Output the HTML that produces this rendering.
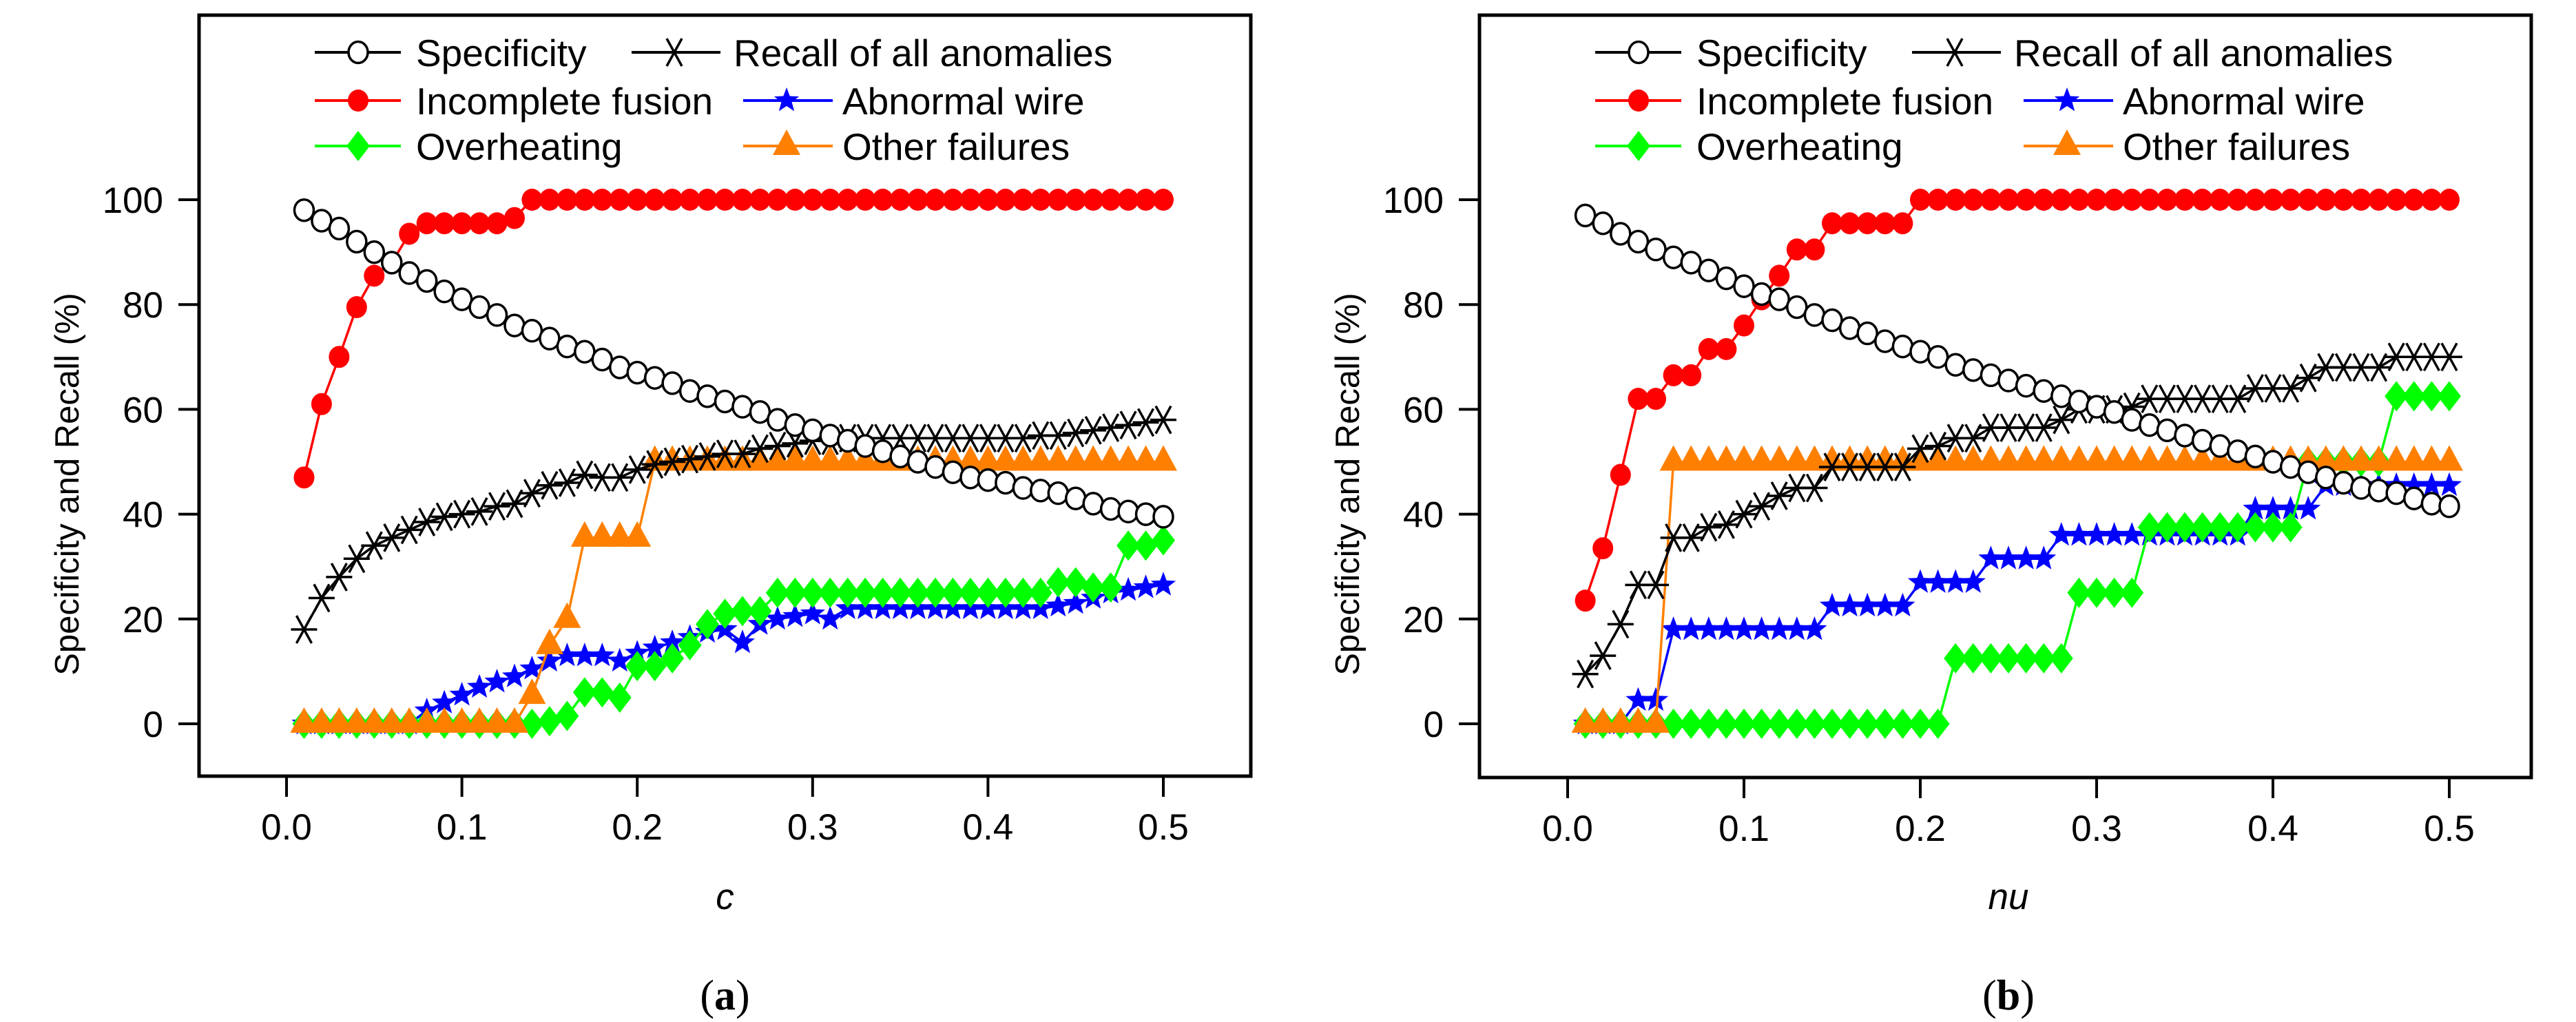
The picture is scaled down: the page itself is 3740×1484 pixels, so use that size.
<!DOCTYPE html>
<html><head><meta charset="utf-8"><style>
html,body{margin:0;padding:0;background:#fff;}
svg{display:block;font-family:"Liberation Sans",Arial,sans-serif;}
</style></head>
<body>
<svg id="fig" width="3740" height="1484" viewBox="0 0 3740 1484" xmlns="http://www.w3.org/2000/svg"></svg>
<script>
const xCats = [0.01,0.02,0.03,0.04,0.05,0.06,0.07,0.08,0.09,0.10,0.11,0.12,0.13,0.14,0.15,0.16,0.17,0.18,0.19,0.20,0.21,0.22,0.23,0.24,0.25,0.26,0.27,0.28,0.29,0.30,0.31,0.32,0.33,0.34,0.35,0.36,0.37,0.38,0.39,0.40,0.41,0.42,0.43,0.44,0.45,0.46,0.47,0.48,0.49,0.50];
const xTicks = ["0.0","0.1","0.2","0.3","0.4","0.5"];
const yTicks = [0,20,40,60,80,100];

const specA = [98,96,94.5,92,90,88,86,84.5,82.5,81,79.5,78,76,75,73.5,72,71,69.5,68,67,66,65,63.5,62.5,61.5,60.5,59.5,58,57,56,55,54,53,52,51,50,49,48,47,46.5,46,45,44.5,44,43,42,41,40.5,40,39.5];
const recallA = [18,24,28,31.5,34,35.5,37,38.5,39.5,40,40.5,41.5,42,44,45.5,46,47.5,47,47,48.5,49.5,50,50.5,51,51.5,51.5,52.5,53,53.5,54,54,54.5,54.5,54.5,54.5,54.5,54.5,54.5,54.5,54.5,54.5,54.5,55,55,55.5,56,56.5,57,57.5,58];
const fusionA = [47,61,70,79.5,85.5,88,93.5,95.5,95.5,95.5,95.5,95.5,96.5,100,100,100,100,100,100,100,100,100,100,100,100,100,100,100,100,100,100,100,100,100,100,100,100,100,100,100,100,100,100,100,100,100,100,100,100,100];
const wireA = [0,0,0,0,0,0,0,2.5,4,5.5,7,8,9,10.5,12,13,13,13,12,13.5,14.5,15.5,16.5,17.5,18,15.5,19,20,20.5,21,20,22,22,22,22,22,22,22,22,22,22,22,22,22.5,23,24,25,25.5,26,26.5];
const heatA = [0,0,0,0,0,0,0,0,0,0,0,0,0,0,0.5,1.5,6,6,5,11,11,12.5,15,19,21,21.5,21.5,25,25,25,25,25,25,25,25,25,25,25,25,25,25,25,25,27,27,26,26,34,34,35];
const otherA = [0,0,0,0,0,0,0,0,0,0,0,0,0,5.5,15,20,35.5,35.5,35.5,35.5,50,50,50,50,50,50,50,50,50,50,50,50,50,50,50,50,50,50,50,50,50,50,50,50,50,50,50,50,50,50];

const specB = [97,95.5,93.5,92,90.5,89,88,86.5,85,83.5,82,81,79.5,78,77,75.5,74.5,73,72,71,70,68.5,67.5,66.5,65.5,64.5,63.5,62.5,61.5,60.5,59.5,58,57,56,55,54,53,52,51,50,49,48,47,46,45,44.5,44,43,42,41.5];
const recallB = [9.5,13,19,26.5,26.5,35.5,35.5,37.5,38,40,41.5,43.5,45,45,49,49,49,49,49,52.5,53,54.5,54.5,56.5,56.5,56.5,56.5,58,60,60,60,60.5,62,62,62,62,62,62,64,64,64,66,68,68,68,68,70,70,70,70];
const fusionB = [23.5,33.5,47.5,62,62,66.5,66.5,71.5,71.5,76,81,85.5,90.5,90.5,95.5,95.5,95.5,95.5,95.5,100,100,100,100,100,100,100,100,100,100,100,100,100,100,100,100,100,100,100,100,100,100,100,100,100,100,100,100,100,100,100];
const wireB = [0,0,0,4.5,4.5,18,18,18,18,18,18,18,18,18,22.5,22.5,22.5,22.5,22.5,27,27,27,27,31.5,31.5,31.5,31.5,36,36,36,36,36,36,36,36,36,36,36,41,41,41,41,45.5,45.5,45.5,45.5,45.5,45.5,45.5,45.5];
const heatB = [0,0,0,0,0,0,0,0,0,0,0,0,0,0,0,0,0,0,0,0,0,12.5,12.5,12.5,12.5,12.5,12.5,12.5,25,25,25,25,37.5,37.5,37.5,37.5,37.5,37.5,37.5,37.5,37.5,50,50,50,50,50,62.5,62.5,62.5,62.5];
const otherB = [0,0,0,0,0,50,50,50,50,50,50,50,50,50,50,50,50,50,50,50,50,50,50,50,50,50,50,50,50,50,50,50,50,50,50,50,50,50,50,50,50,50,50,50,50,50,50,50,50,50];

const legendLabels = ["Specificity","Recall of all anomalies","Incomplete fusion","Abnormal wire","Overheating","Other failures"];

const NS="http://www.w3.org/2000/svg";
const svg=document.getElementById('fig');
function mk(tag,attrs,parent){const e=document.createElementNS(NS,tag);for(const k in attrs)e.setAttribute(k,attrs[k]);(parent||svg).appendChild(e);return e;}

function marker(type,cx,cy,g){
  let e;
  if(type==='circle'){e=mk('ellipse',{cx:cx,cy:cy,rx:14,ry:15.5,fill:'#fff',stroke:'#000','stroke-width':3.5},g);}
  else if(type==='dot'){e=mk('ellipse',{cx:cx,cy:cy,rx:15,ry:16,fill:'#ff0000'},g);}
  else if(type==='star'){let p=[];for(let i=0;i<10;i++){const r=i%2?8:19;const a=-Math.PI/2+i*Math.PI/5;p.push((cx+r*Math.cos(a)).toFixed(1)+','+(cy+r*Math.sin(a)).toFixed(1));}e=mk('polygon',{points:p.join(' '),fill:'#0000ff'},g);}
  else if(type==='diamond'){e=mk('polygon',{points:`${cx},${cy-22} ${cx+17},${cy} ${cx},${cy+22} ${cx-17},${cy}`,fill:'#00ff00'},g);}
  else if(type==='tri'){e=mk('polygon',{points:`${cx},${cy-24} ${cx+20},${cy+13} ${cx-20},${cy+13}`,fill:'#ff8000'},g);}
  else if(type==='ast'){e=mk('path',{d:`M${cx-19},${cy}H${cx+19}M${cx-11},${cy-20}L${cx+11},${cy+20}M${cx+11},${cy-20}L${cx-11},${cy+20}`,stroke:'#000','stroke-width':3.5,fill:'none'},g);}
  return e;
}

const seriesStyle=[
  {key:'wire',color:'#0000ff',m:'star',name:'abnormal-wire'},
  {key:'heat',color:'#00ff00',m:'diamond',name:'overheating'},
  {key:'other',color:'#ff8000',m:'tri',name:'other-failures'},
  {key:'fusion',color:'#ff0000',m:'dot',name:'incomplete-fusion'},
  {key:'recall',color:'#000000',m:'ast',name:'recall-all-anomalies'},
  {key:'spec',color:'#000000',m:'circle',name:'specificity'}
];

function panel(id,box,x0px,x5px,data,xlabel,sub){
  const g=mk('g',{});
  
  
  const y0=1051,y100=290;
  const X=v=>x0px+(x5px-x0px)*v/0.5;
  const Y=v=>y0+(y100-y0)*v/100;
  const frame=mk('rect',{x:box.l,y:box.t,width:box.r-box.l,height:box.b-box.t,fill:'none',stroke:'#000','stroke-width':5},g);
  
  
  yTicks.forEach(t=>{
    const tk=mk('line',{x1:box.l-30,x2:box.l,y1:Y(t),y2:Y(t),stroke:'#000','stroke-width':4},g);
    
    
    const tl=mk('text',{x:box.l-52,y:Y(t)+19,'text-anchor':'end','font-size':53},g);
    tl.textContent=t;
    
    
  });
  xTicks.forEach((t,i)=>{
    const xv=X(i*0.1);
    const tk=mk('line',{x1:xv,x2:xv,y1:box.b,y2:box.b+30,stroke:'#000','stroke-width':4},g);
    
    
    const tl=mk('text',{x:xv,y:box.b+92,'text-anchor':'middle','font-size':53},g);
    tl.textContent=t;
    
    
  });
  const yt=mk('text',{x:0,y:0,'text-anchor':'middle','font-size':49,transform:`translate(${box.l-175},${703}) rotate(-90)`},g);
  yt.textContent='Specificity and Recall (%)';
  
  
  const xt=mk('text',{x:(X(0)+X(0.5))/2,y:1320,'text-anchor':'middle','font-size':53,'font-style':'italic'},g);
  xt.textContent=xlabel;
  
  
  const st=mk('text',{x:(X(0)+X(0.5))/2,y:1466,'text-anchor':'middle','font-size':62,'font-family':'"Liberation Serif",serif'},g);
  st.innerHTML='(<tspan font-weight="bold">'+sub+'</tspan>)';
  
  
  seriesStyle.forEach(s=>{
    const vals=data[s.key];
    const sg=mk('g',{},g);
    
    
    const pts=xCats.map((xv,i)=>X(xv).toFixed(1)+','+Y(vals[i]).toFixed(1)).join(' ');
    const pl=mk('polyline',{points:pts,fill:'none',stroke:s.color,'stroke-width':3.5},sg);
    
    
    xCats.forEach((xv,i)=>{
      const m=marker(s.m,X(xv),Y(vals[i]),sg);
      
      
    });
  });
  const lg=mk('g',{},g);
  
  
  const order=[['spec','circle','#000'],['recall','ast','#000'],['fusion','dot','#ff0000'],['wire','star','#0000ff'],['heat','diamond','#00ff00'],['other','tri','#ff8000']];
  const rowsY=[76,146,212];
  const colLine=[[457,582,520,604],[917,1046,979,1065]];
  const colLine2=[[457,582,520,604],[1079,1209,1142,1223]];
  order.forEach((o,i)=>{
    const row=Math.floor(i/2),col=i%2;
    const c=(row===0?colLine:colLine2)[col];
    const dx=box.l-289;
    const eg=mk('g',{},lg);
    
    
    mk('line',{x1:c[0]+dx,x2:c[1]+dx,y1:rowsY[row],y2:rowsY[row],stroke:o[2],'stroke-width':4},eg);
    marker(o[1],c[2]+dx,rowsY[row],eg);
    const t=mk('text',{x:c[3]+dx,y:rowsY[row]+20,'font-size':55},eg);
    t.textContent=legendLabels[i];
  });
}

panel('a',{l:289,t:22,r:1816,b:1127},416,1689,
  {spec:specA,recall:recallA,fusion:fusionA,wire:wireA,heat:heatA,other:otherA},'c','a');
panel('b',{l:2148,t:22,r:3675,b:1129},2276,3556,
  {spec:specB,recall:recallB,fusion:fusionB,wire:wireB,heat:heatB,other:otherB},'nu','b');
</script>
</body></html>
